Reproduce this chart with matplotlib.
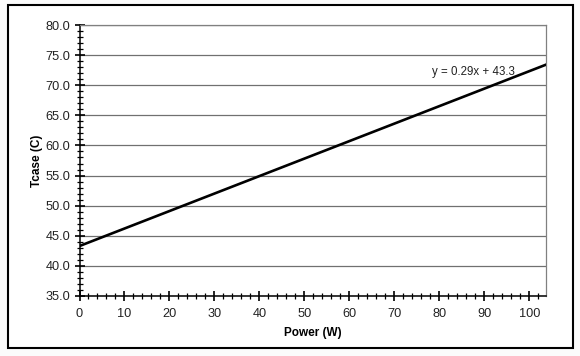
import numpy as np
import matplotlib.pyplot as plt
from matplotlib.patches import Rectangle
from matplotlib.ticker import MultipleLocator

plt.rcParams['font.family'] = ['Liberation Sans', 'DejaVu Sans']

# trendline endpoints
power = [0, 104]
tcase = [43.3, 73.5]
eq_label = "y = 0.29x + 43.3"

W, H = 580, 356
fig = plt.figure(figsize=(W / 100, H / 100), dpi=100)
fig.patch.set_facecolor('#fbfbfb')

# outer chart border
fig.add_artist(Rectangle((8 / W, 1 - 348 / H), (573 - 8) / W, (348 - 5) / H,
                         transform=fig.transFigure, fill=True, facecolor='white',
                         edgecolor='black', lw=1.5, zorder=0))

ax = fig.add_axes([79.5 / W, 1 - 296 / H, (546 - 79.5) / W, (296 - 25) / H])
ax.set_facecolor('white')
ax.plot(power, tcase, color='black', lw=1.9, solid_capstyle='butt', zorder=3)

ax.set_xlim(0, 103.7)
ax.set_ylim(35, 80)
ax.xaxis.set_major_locator(MultipleLocator(10))
ax.xaxis.set_minor_locator(MultipleLocator(2))
ax.yaxis.set_major_locator(MultipleLocator(5))
ax.yaxis.set_minor_locator(MultipleLocator(1))
ax.set_xticks(np.arange(0, 101, 10))
ax.set_yticks(np.arange(35, 81, 5))
ax.set_yticklabels([f"{v:.1f}" for v in np.arange(35, 81, 5)])

ax.grid(axis='y', which='major', color='#707070', lw=0.9)
ax.set_axisbelow(True)
ax.tick_params(which='major', direction='inout', length=7, width=1.2, labelsize=9.2,
               color='black', labelcolor='#222222')
ax.tick_params(which='minor', direction='inout', length=4, width=0.9, color='black')
ax.tick_params(axis='x', pad=5)
ax.tick_params(axis='y', pad=3)

for s in ['top', 'right']:
    ax.spines[s].set_color('#808080')
    ax.spines[s].set_linewidth(0.9)
for s in ['left', 'bottom']:
    ax.spines[s].set_color('black')
    ax.spines[s].set_linewidth(1.1)

ax.set_xlabel("Power (W)", fontsize=8.5, fontweight='bold', labelpad=5)
ax.set_ylabel("Tcase (C)", fontsize=8.5, fontweight='bold', labelpad=2)

ax.text(78.3, 72.2, eq_label, fontsize=8.3, va='center', ha='left', color='#222222')

fig.savefig('out.png', dpi=100, facecolor=fig.get_facecolor())
